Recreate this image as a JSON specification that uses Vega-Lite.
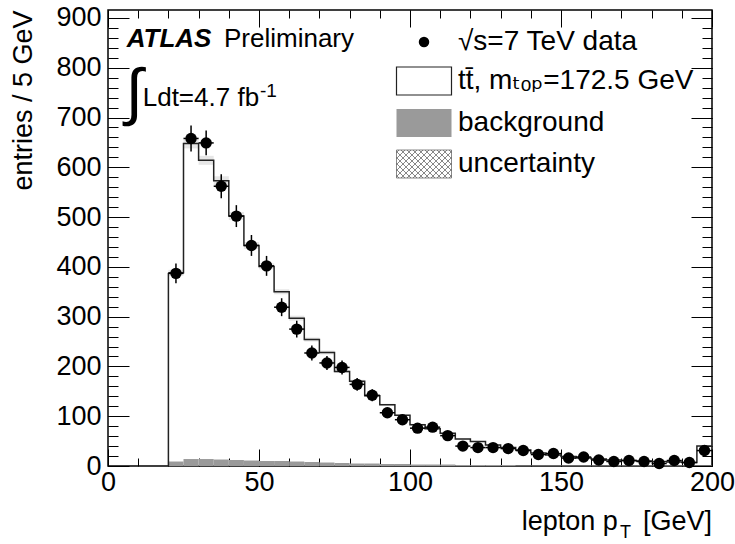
{
  "$schema": "https://vega.github.io/schema/vega-lite/v6.json",
  "width": 604,
  "height": 456,
  "autosize": {"type": "none"},
  "padding": {"left": 108, "top": 10, "right": 23, "bottom": 78},
  "background": "white",
  "config": {
    "font": "Liberation Sans",
    "view": {"stroke": "#000", "strokeWidth": 1.5},
    "axis": {"grid": false, "domain": false, "labelFont": "Liberation Sans", "labelColor": "#000", "tickColor": "#000", "tickWidth": 1, "titleFont": "Liberation Sans", "titleColor": "#000", "titleFontWeight": "normal"},
    "text": {"font": "Liberation Sans", "color": "#000"}
  },
  "data": {"values": [
    {"lo": 20, "hi": 25, "c": 22.5, "data": 387, "err": 20, "mc": 388, "ulo": 382, "uhi": 394, "bg": 9},
    {"lo": 25, "hi": 30, "c": 27.5, "data": 658, "err": 26, "mc": 648, "ulo": 638, "uhi": 658, "bg": 14},
    {"lo": 30, "hi": 35, "c": 32.5, "data": 649, "err": 25, "mc": 614, "ulo": 605, "uhi": 623, "bg": 14},
    {"lo": 35, "hi": 40, "c": 37.5, "data": 562, "err": 24, "mc": 573, "ulo": 564, "uhi": 582, "bg": 13},
    {"lo": 40, "hi": 45, "c": 42.5, "data": 502, "err": 22, "mc": 502, "ulo": 494, "uhi": 510, "bg": 12},
    {"lo": 45, "hi": 50, "c": 47.5, "data": 443, "err": 21, "mc": 443, "ulo": 436, "uhi": 450, "bg": 11},
    {"lo": 50, "hi": 55, "c": 52.5, "data": 402, "err": 20, "mc": 401, "ulo": 395, "uhi": 407, "bg": 10},
    {"lo": 55, "hi": 60, "c": 57.5, "data": 319, "err": 18, "mc": 350, "ulo": 345, "uhi": 355, "bg": 10},
    {"lo": 60, "hi": 65, "c": 62.5, "data": 275, "err": 17, "mc": 297, "ulo": 292, "uhi": 302, "bg": 9},
    {"lo": 65, "hi": 70, "c": 67.5, "data": 227, "err": 15, "mc": 254, "ulo": 250, "uhi": 258, "bg": 8},
    {"lo": 70, "hi": 75, "c": 72.5, "data": 207, "err": 14, "mc": 228, "ulo": 224, "uhi": 232, "bg": 7},
    {"lo": 75, "hi": 80, "c": 77.5, "data": 198, "err": 14, "mc": 190, "ulo": 187, "uhi": 193, "bg": 6},
    {"lo": 80, "hi": 85, "c": 82.5, "data": 164, "err": 13, "mc": 170, "ulo": 167, "uhi": 173, "bg": 5},
    {"lo": 85, "hi": 90, "c": 87.5, "data": 142, "err": 12, "mc": 141, "ulo": 139, "uhi": 143, "bg": 5},
    {"lo": 90, "hi": 95, "c": 92.5, "data": 107, "err": 10, "mc": 123, "ulo": 121, "uhi": 125, "bg": 4},
    {"lo": 95, "hi": 100, "c": 97.5, "data": 93, "err": 10, "mc": 102, "ulo": 100, "uhi": 104, "bg": 4},
    {"lo": 100, "hi": 105, "c": 102.5, "data": 76, "err": 9, "mc": 83, "ulo": 81, "uhi": 85, "bg": 3},
    {"lo": 105, "hi": 110, "c": 107.5, "data": 78, "err": 9, "mc": 75, "ulo": 74, "uhi": 76, "bg": 3},
    {"lo": 110, "hi": 115, "c": 112.5, "data": 61, "err": 8, "mc": 66, "ulo": 65, "uhi": 67, "bg": 3},
    {"lo": 115, "hi": 120, "c": 117.5, "data": 40, "err": 6, "mc": 54, "ulo": 53, "uhi": 55, "bg": 2},
    {"lo": 120, "hi": 125, "c": 122.5, "data": 37, "err": 6, "mc": 49, "ulo": 48, "uhi": 50, "bg": 2},
    {"lo": 125, "hi": 130, "c": 127.5, "data": 37, "err": 6, "mc": 42, "ulo": 41, "uhi": 43, "bg": 2},
    {"lo": 130, "hi": 135, "c": 132.5, "data": 35, "err": 6, "mc": 37, "ulo": 36, "uhi": 38, "bg": 2},
    {"lo": 135, "hi": 140, "c": 137.5, "data": 31, "err": 6, "mc": 32, "ulo": 31, "uhi": 33, "bg": 1},
    {"lo": 140, "hi": 145, "c": 142.5, "data": 23, "err": 5, "mc": 26, "ulo": 25, "uhi": 27, "bg": 1},
    {"lo": 145, "hi": 150, "c": 147.5, "data": 25, "err": 5, "mc": 22, "ulo": 21, "uhi": 23, "bg": 1},
    {"lo": 150, "hi": 155, "c": 152.5, "data": 16, "err": 4, "mc": 19, "ulo": 18, "uhi": 20, "bg": 1},
    {"lo": 155, "hi": 160, "c": 157.5, "data": 18, "err": 4, "mc": 16, "ulo": 15, "uhi": 17, "bg": 1},
    {"lo": 160, "hi": 165, "c": 162.5, "data": 12, "err": 3, "mc": 14, "ulo": 13, "uhi": 15, "bg": 1},
    {"lo": 165, "hi": 170, "c": 167.5, "data": 9, "err": 3, "mc": 12, "ulo": 11, "uhi": 13, "bg": 1},
    {"lo": 170, "hi": 175, "c": 172.5, "data": 11, "err": 3, "mc": 11, "ulo": 10, "uhi": 12, "bg": 1},
    {"lo": 175, "hi": 180, "c": 177.5, "data": 9, "err": 3, "mc": 10, "ulo": 9, "uhi": 11, "bg": 1},
    {"lo": 180, "hi": 185, "c": 182.5, "data": 5, "err": 2, "mc": 9, "ulo": 8, "uhi": 10, "bg": 1},
    {"lo": 185, "hi": 190, "c": 187.5, "data": 11, "err": 3, "mc": 8, "ulo": 7, "uhi": 9, "bg": 1},
    {"lo": 190, "hi": 195, "c": 192.5, "data": 7, "err": 3, "mc": 7, "ulo": 6, "uhi": 8, "bg": 1},
    {"lo": 195, "hi": 200, "c": 197.5, "data": 31, "err": 6, "mc": 40, "ulo": 39, "uhi": 41, "bg": 1}
  ]},
  "resolve": {"axis": {"x": "independent", "y": "independent"}},
  "layer": [
    {
      "mark": {"type": "rect"},
      "encoding": {
        "x": {"field": "lo", "type": "quantitative", "scale": {"domain": [0, 200], "nice": false, "zero": false},
              "axis": {"orient": "bottom", "values": [0, 50, 100, 150, 200], "tickSize": -17, "labelPadding": 20, "labelFontSize": 27, "labelFlush": false, "labelOverlap": false, "title": null}},
        "x2": {"field": "hi"},
        "y": {"field": "bg", "type": "quantitative", "scale": {"domain": [0, 916], "nice": false},
              "axis": {"orient": "left", "values": [0, 100, 200, 300, 400, 500, 600, 700, 800, 900], "tickSize": -21, "labelPadding": 28, "labelFontSize": 27, "labelOverlap": false, "title": "entries / 5 GeV", "titleFontSize": 27, "titleAnchor": "end", "titlePadding": 18}},
        "y2": {"datum": 0},
        "fill": {"datum": "background", "type": "nominal",
          "scale": {"domain": ["√s=7 TeV data", "tt̄, mₜₒₚ=172.5 GeV", "background", "uncertainty"], "range": ["#000000", "#ffffff", "#9a9a9a", "#ffffff"]},
          "legend": {
            "orient": "none", "legendX": 302, "legendY": 18, "title": null,
            "symbolSize": 1600, "labelOffset": 20, "rowPadding": 8,
            "labelFont": "Liberation Sans, DejaVu Sans", "labelFontSize": 28, "labelColor": "#000", "labelLimit": 500,
            "encode": {"symbols": {"update": {
              "shape": {"signal": "datum.index===0?'circle':datum.index===3?'M-1.375,-0.7H1.375V0.7H-1.375ZM-1.375,0.575L-1.25,0.7M-1.375,0.275L-0.95,0.7M-1.375,-0.025L-0.65,0.7M-1.375,-0.325L-0.35,0.7M-1.375,-0.625L-0.05,0.7M-1.15,-0.7L0.25,0.7M-0.85,-0.7L0.55,0.7M-0.55,-0.7L0.85,0.7M-0.25,-0.7L1.15,0.7M0.05,-0.7L1.375,0.625M0.35,-0.7L1.375,0.325M0.65,-0.7L1.375,0.025M0.95,-0.7L1.375,-0.275M1.25,-0.7L1.375,-0.575M1.375,0.575L1.25,0.7M1.375,0.275L0.95,0.7M1.375,-0.025L0.65,0.7M1.375,-0.325L0.35,0.7M1.375,-0.625L0.05,0.7M1.15,-0.7L-0.25,0.7M0.85,-0.7L-0.55,0.7M0.55,-0.7L-0.85,0.7M0.25,-0.7L-1.15,0.7M-0.05,-0.7L-1.375,0.625M-0.35,-0.7L-1.375,0.325M-0.65,-0.7L-1.375,0.025M-0.95,-0.7L-1.375,-0.275M-1.25,-0.7L-1.375,-0.575':'M-1.375,-0.7H1.375V0.7H-1.375Z'"},
              "size": {"signal": "datum.index===0?110:1600"},
              "stroke": {"signal": "datum.index===1?'#222222':datum.index===3?'#555555':'transparent'"},
              "strokeWidth": {"signal": "datum.index===3?0.7:1.2"}
            }}}
          }
        }
      }
    },
    {
      "mark": {"type": "rect", "fill": "#9a9a9a", "fillOpacity": 0.25},
      "encoding": {
        "x": {"field": "lo", "type": "quantitative",
              "axis": {"orient": "bottom", "values": [0, 10, 20, 30, 40, 50, 60, 70, 80, 90, 100, 110, 120, 130, 140, 150, 160, 170, 180, 190, 200], "tickSize": -8, "labels": false, "title": null}},
        "x2": {"field": "hi"},
        "y": {"field": "ulo", "type": "quantitative",
              "axis": {"orient": "left", "values": [0, 20, 40, 60, 80, 100, 120, 140, 160, 180, 200, 220, 240, 260, 280, 300, 320, 340, 360, 380, 400, 420, 440, 460, 480, 500, 520, 540, 560, 580, 600, 620, 640, 660, 680, 700, 720, 740, 760, 780, 800, 820, 840, 860, 880, 900], "tickSize": -10, "labels": false, "title": null}},
        "y2": {"field": "uhi"}
      }
    },
    {
      "transform": [{"fold": ["lo", "hi"], "as": ["edge", "xv"]}],
      "mark": {"type": "line", "color": "#222222", "strokeWidth": 1.5},
      "encoding": {
        "x": {"field": "xv", "type": "quantitative",
              "axis": {"orient": "top", "values": [0, 50, 100, 150, 200], "tickSize": -17, "labels": false, "title": null}},
        "y": {"field": "mc", "type": "quantitative",
              "axis": {"orient": "right", "values": [0, 100, 200, 300, 400, 500, 600, 700, 800, 900], "tickSize": -21, "labels": false, "title": null}},
        "order": [{"field": "xv", "type": "quantitative", "sort": "ascending"}, {"field": "edge", "type": "nominal", "sort": "ascending"}]
      }
    },
    {
      "transform": [{"filter": "datum.lo == 20"}],
      "mark": {"type": "rule", "color": "#222222", "strokeWidth": 1.5},
      "encoding": {
        "x": {"field": "lo", "type": "quantitative",
              "axis": {"orient": "top", "values": [0, 10, 20, 30, 40, 50, 60, 70, 80, 90, 100, 110, 120, 130, 140, 150, 160, 170, 180, 190, 200], "tickSize": -8, "labels": false, "title": null}},
        "y": {"field": "mc", "type": "quantitative",
              "axis": {"orient": "right", "values": [0, 20, 40, 60, 80, 100, 120, 140, 160, 180, 200, 220, 240, 260, 280, 300, 320, 340, 360, 380, 400, 420, 440, 460, 480, 500, 520, 540, 560, 580, 600, 620, 640, 660, 680, 700, 720, 740, 760, 780, 800, 820, 840, 860, 880, 900], "tickSize": -10, "labels": false, "title": null}},
        "y2": {"datum": 0}
      }
    },
    {
      "mark": {"type": "rule", "color": "#000", "strokeWidth": 1.5},
      "encoding": {
        "x": {"field": "lo", "type": "quantitative", "axis": null},
        "x2": {"field": "hi"},
        "y": {"field": "data", "type": "quantitative", "axis": null}
      }
    },
    {
      "mark": {"type": "errorbar", "color": "#000", "thickness": 1.5},
      "encoding": {
        "x": {"field": "c", "type": "quantitative", "axis": null},
        "y": {"field": "data", "type": "quantitative", "axis": null},
        "yError": {"field": "err"}
      }
    },
    {
      "mark": {"type": "point", "filled": true, "color": "#000", "opacity": 1, "size": 130},
      "encoding": {
        "x": {"field": "c", "type": "quantitative", "axis": null},
        "y": {"field": "data", "type": "quantitative", "axis": null}
      }
    },
    {
      "data": {"values": [{}]},
      "mark": {"type": "text", "text": "ATLAS", "align": "left", "baseline": "alphabetic", "fontSize": 26, "fontWeight": "bold", "fontStyle": "italic"},
      "encoding": {"x": {"datum": 6.2, "type": "quantitative", "axis": null}, "y": {"datum": 842, "type": "quantitative", "axis": null}}
    },
    {
      "data": {"values": [{}]},
      "mark": {"type": "text", "text": "Preliminary", "align": "left", "baseline": "alphabetic", "fontSize": 26},
      "encoding": {"x": {"datum": 38.4, "type": "quantitative", "axis": null}, "y": {"datum": 842, "type": "quantitative", "axis": null}}
    },
    {
      "data": {"values": [{}]},
      "mark": {"type": "text", "text": "∫", "align": "left", "baseline": "alphabetic", "fontSize": 63, "font": "Liberation Sans"},
      "encoding": {"x": {"datum": 5.8, "type": "quantitative", "axis": null}, "y": {"datum": 709, "type": "quantitative", "axis": null}}
    },
    {
      "data": {"values": [{}]},
      "mark": {"type": "text", "text": "Ldt=4.7 fb", "align": "left", "baseline": "alphabetic", "fontSize": 26},
      "encoding": {"x": {"datum": 11.5, "type": "quantitative", "axis": null}, "y": {"datum": 723, "type": "quantitative", "axis": null}}
    },
    {
      "data": {"values": [{}]},
      "mark": {"type": "text", "text": "-1", "align": "left", "baseline": "alphabetic", "fontSize": 19},
      "encoding": {"x": {"datum": 50.3, "type": "quantitative", "axis": null}, "y": {"datum": 742, "type": "quantitative", "axis": null}}
    },
    {
      "data": {"values": [{}]},
      "mark": {"type": "text", "text": "lepton p", "align": "right", "baseline": "alphabetic", "fontSize": 27},
      "encoding": {"x": {"datum": 168.8, "type": "quantitative", "axis": null}, "y": {"datum": -128, "type": "quantitative", "axis": null}}
    },
    {
      "data": {"values": [{}]},
      "mark": {"type": "text", "text": "T", "align": "left", "baseline": "alphabetic", "fontSize": 18},
      "encoding": {"x": {"datum": 169.5, "type": "quantitative", "axis": null}, "y": {"datum": -145, "type": "quantitative", "axis": null}}
    },
    {
      "data": {"values": [{}]},
      "mark": {"type": "text", "text": "[GeV]", "align": "right", "baseline": "alphabetic", "fontSize": 27},
      "encoding": {"x": {"datum": 200, "type": "quantitative", "axis": null}, "y": {"datum": -128, "type": "quantitative", "axis": null}}
    }
  ]
}
